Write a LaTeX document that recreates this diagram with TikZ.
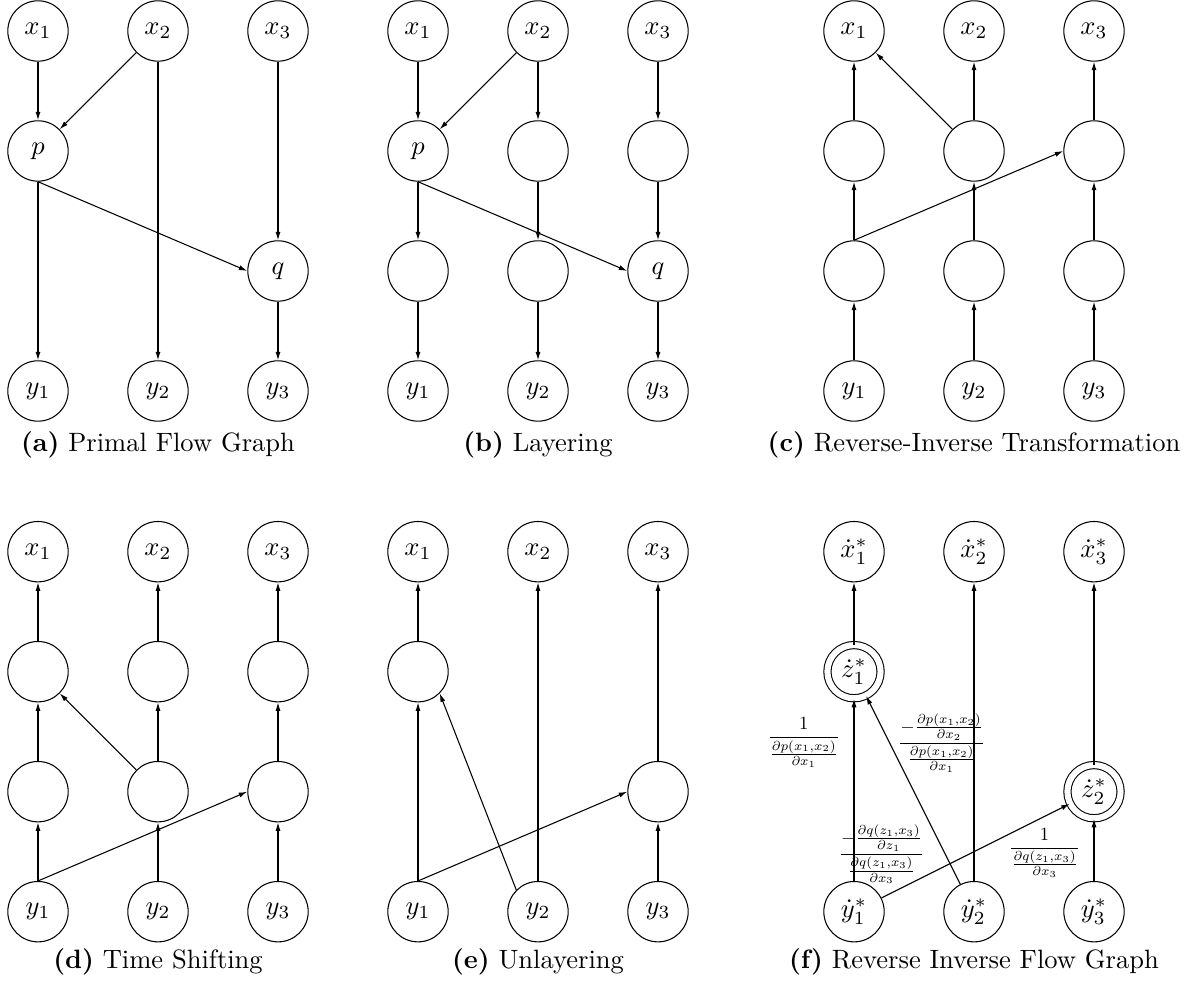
\documentclass[tikz,border=0pt]{standalone}
\usetikzlibrary{arrows.meta}
\tikzset{
  flow/.style={circle,draw,minimum size=0.8cm,inner sep=0pt},
  dflow/.style={flow,double,double distance=2.3pt,minimum size=0.705cm},
  wlabel/.style={scale=0.7,execute at begin node=$\displaystyle,execute at end node=$}
}
\begin{document}
\begin{tikzpicture}[x=1.59cm,y=1.59cm,>={Latex[length=3.2pt,width=1.9pt]}]
\useasboundingbox (-0.3167,0.2583) rectangle (9.6,-7.95);

% (a) primal flow graph
\begin{scope}
\node[flow] (a-x1) at (0,0) {$x_1$};
\node[flow] (a-x2) at (1,0) {$x_2$};
\node[flow] (a-x3) at (2,0) {$x_3$};
\node[flow] (a-p) at (0,-1) {$p$};
\node[flow] (a-q) at (2,-2) {$q$};
\node[flow] (a-y1) at (0,-3) {$y_1$};
\node[flow] (a-y2) at (1,-3) {$y_2$};
\node[flow] (a-y3) at (2,-3) {$y_3$};
\draw[->] (a-x1) -- (a-p);
\draw[->] (a-x2) -- (a-p);
\draw[->] (a-x2) -- (a-y2);
\draw[->] (a-x3) -- (a-q);
\draw[->] (a-p) -- (a-y1);
\draw[->] (a-p.south) -- (a-q.west);
\draw[->] (a-q) -- (a-y3);
\node (a-cap) at (1,-3.45) {\textbf{(a)} Primal Flow Graph};
\end{scope}

% (b) layering
\begin{scope}[shift={(3.1667,0)}]
\node[flow] (b-x1) at (0,0) {$x_1$};
\node[flow] (b-x2) at (1,0) {$x_2$};
\node[flow] (b-x3) at (2,0) {$x_3$};
\node[flow] (b-p) at (0,-1) {$p$};
\node[flow] (b-m2) at (1,-1) {};
\node[flow] (b-m3) at (2,-1) {};
\node[flow] (b-n1) at (0,-2) {};
\node[flow] (b-n2) at (1,-2) {};
\node[flow] (b-q) at (2,-2) {$q$};
\node[flow] (b-y1) at (0,-3) {$y_1$};
\node[flow] (b-y2) at (1,-3) {$y_2$};
\node[flow] (b-y3) at (2,-3) {$y_3$};
\draw[->] (b-x1) -- (b-p);
\draw[->] (b-x2) -- (b-p);
\draw[->] (b-x2) -- (b-m2);
\draw[->] (b-x3) -- (b-m3);
\draw[->] (b-p) -- (b-n1);
\draw[->] (b-m2) -- (b-n2);
\draw[->] (b-m3) -- (b-q);
\draw[->] (b-p.south) -- (b-q.west);
\draw[->] (b-n1) -- (b-y1);
\draw[->] (b-n2) -- (b-y2);
\draw[->] (b-q) -- (b-y3);
\node (b-cap) at (1,-3.45) {\textbf{(b)} Layering};
\end{scope}

% (c) reverse-inverse transformation
\begin{scope}[shift={(6.8,0)}]
\node[flow] (c-x1) at (0,0) {$x_1$};
\node[flow] (c-x2) at (1,0) {$x_2$};
\node[flow] (c-x3) at (2,0) {$x_3$};
\node[flow] (c-m1) at (0,-1) {};
\node[flow] (c-m2) at (1,-1) {};
\node[flow] (c-m3) at (2,-1) {};
\node[flow] (c-n1) at (0,-2) {};
\node[flow] (c-n2) at (1,-2) {};
\node[flow] (c-n3) at (2,-2) {};
\node[flow] (c-y1) at (0,-3) {$y_1$};
\node[flow] (c-y2) at (1,-3) {$y_2$};
\node[flow] (c-y3) at (2,-3) {$y_3$};
\draw[->] (c-y1) -- (c-n1);
\draw[->] (c-y2) -- (c-n2);
\draw[->] (c-y3) -- (c-n3);
\draw[->] (c-n1) -- (c-m1);
\draw[->] (c-n2) -- (c-m2);
\draw[->] (c-n3) -- (c-m3);
\draw[->] (c-m1) -- (c-x1);
\draw[->] (c-m2) -- (c-x2);
\draw[->] (c-m3) -- (c-x3);
\draw[->] (c-m2.north west) -- (c-x1.south east);
\draw[->] (c-n1.north) -- (c-m3.west);
\node (c-cap) at (1,-3.45) {\textbf{(c)} Reverse-Inverse Transformation};
\end{scope}

% (d) time shifting
\begin{scope}[shift={(0,-4.339)}]
\node[flow] (d-x1) at (0,0) {$x_1$};
\node[flow] (d-x2) at (1,0) {$x_2$};
\node[flow] (d-x3) at (2,0) {$x_3$};
\node[flow] (d-m1) at (0,-1) {};
\node[flow] (d-m2) at (1,-1) {};
\node[flow] (d-m3) at (2,-1) {};
\node[flow] (d-n1) at (0,-2) {};
\node[flow] (d-n2) at (1,-2) {};
\node[flow] (d-n3) at (2,-2) {};
\node[flow] (d-y1) at (0,-3) {$y_1$};
\node[flow] (d-y2) at (1,-3) {$y_2$};
\node[flow] (d-y3) at (2,-3) {$y_3$};
\draw[->] (d-y1) -- (d-n1);
\draw[->] (d-y2) -- (d-n2);
\draw[->] (d-y3) -- (d-n3);
\draw[->] (d-n1) -- (d-m1);
\draw[->] (d-n2) -- (d-m2);
\draw[->] (d-n3) -- (d-m3);
\draw[->] (d-m1) -- (d-x1);
\draw[->] (d-m2) -- (d-x2);
\draw[->] (d-m3) -- (d-x3);
\draw[->] (d-n2.north west) -- (d-m1.south east);
\draw[->] (d-y1.north) -- (d-n3.west);
\node (d-cap) at (1,-3.42) {\textbf{(d)} Time Shifting};
\end{scope}

% (e) unlayering
\begin{scope}[shift={(3.1667,-4.339)}]
\node[flow] (e-x1) at (0,0) {$x_1$};
\node[flow] (e-x2) at (1,0) {$x_2$};
\node[flow] (e-x3) at (2,0) {$x_3$};
\node[flow] (e-m1) at (0,-1) {};
\node[flow] (e-n3) at (2,-2) {};
\node[flow] (e-y1) at (0,-3) {$y_1$};
\node[flow] (e-y2) at (1,-3) {$y_2$};
\node[flow] (e-y3) at (2,-3) {$y_3$};
\draw[->] (e-y1) -- (e-m1);
\draw[->] (e-y2.north west) -- (e-m1.south east);
\draw[->] (e-y2) -- (e-x2);
\draw[->] (e-y1.north) -- (e-n3.west);
\draw[->] (e-y3) -- (e-n3);
\draw[->] (e-m1) -- (e-x1);
\draw[->] (e-n3) -- (e-x3);
\node (e-cap) at (1,-3.42) {\textbf{(e)} Unlayering};
\end{scope}

% (f) reverse inverse flow graph
\begin{scope}[shift={(6.8,-4.339)}]
\node[flow] (f-x1) at (0,0) {$\dot{x}^*_1$};
\node[flow] (f-x2) at (1,0) {$\dot{x}^*_2$};
\node[flow] (f-x3) at (2,0) {$\dot{x}^*_3$};
\node[dflow] (f-z1) at (0,-1) {$\dot{z}^*_1$};
\node[dflow] (f-z2) at (2,-2) {$\dot{z}^*_2$};
\node[flow] (f-y1) at (0,-3) {$\dot{y}^*_1$};
\node[flow] (f-y2) at (1,-3) {$\dot{y}^*_2$};
\node[flow] (f-y3) at (2,-3) {$\dot{y}^*_3$};
\draw[->] (f-z1) -- (f-x1);
\draw[->] (f-y1) -- node[wlabel,pos=0.76,left=4pt] {\frac{1}{\frac{\partial p(x_1,x_2)}{\partial x_1}}} (f-z1);
\draw[->] (f-y2) -- node[wlabel,pos=0.75,right=1pt] {\frac{-\frac{\partial p(x_1,x_2)}{\partial x_2}}{\frac{\partial p(x_1,x_2)}{\partial x_1}}} (f-z1);
\draw[->] (f-y2) -- (f-x2);
\draw[->] (f-y1) -- node[wlabel,pos=0,above=4pt] {\frac{-\frac{\partial q(z_1,x_3)}{\partial z_1}}{\frac{\partial q(z_1,x_3)}{\partial x_3}}} (f-z2);
\draw[->] (f-y3) -- node[wlabel,pos=0.45,left=4pt] {\frac{1}{\frac{\partial q(z_1,x_3)}{\partial x_3}}} (f-z2);
\draw[->] (f-z2) -- (f-x3);
\node (f-cap) at (1,-3.42) {\textbf{(f)} Reverse Inverse Flow Graph};
\end{scope}

\end{tikzpicture}
\end{document}
